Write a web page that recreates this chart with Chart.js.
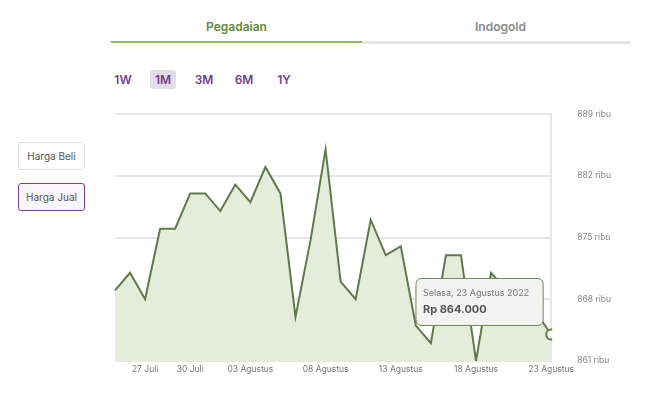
<!DOCTYPE html>
<html>
<head>
<meta charset="utf-8">
<script src="https://cdn.jsdelivr.net/npm/chart.js@4.4.0/dist/chart.umd.min.js"></script>
<style>
  body { margin: 0; width: 648px; height: 397px; background: #fff; font-family: Inter, "Open Sans", sans-serif; position: relative; overflow: hidden; }
  .tab { position: absolute; top: 19px; font-size: 12px; font-weight: 600; text-align: center; }
  .tab.on { left: 111px; width: 251px; color: #5f8a3c; }
  .tab.off { left: 370px; width: 261px; color: #8a8a8a; }
  .line-on { position: absolute; left: 111px; top: 41px; width: 251px; height: 2px; background: #8bbb6a; }
  .line-off { position: absolute; left: 362px; top: 41px; width: 269px; height: 3px; background: #e6e6e6; }
  .period { position: absolute; top: 70px; height: 19px; line-height: 19px; font-size: 12px; font-weight: 600; color: #74408c; text-align: center; width: 26px; border-radius: 3px; }
  .period.sel { background: #e1dcea; }
  .side { position: absolute; left: 18px; width: 65px; height: 26px; line-height: 26px; font-size: 10px; color: #555; text-align: center; border-radius: 3px; }
  .side.beli { top: 142px; border: 1px solid #dedede; }
  .side.jual { top: 183px; border: 1px solid #7b3fa0; background: #f8f6fa; }
  #wrap { position: absolute; left: 100px; top: 83px; width: 548px; height: 309px; }
</style>
</head>
<body>
<div class="tab on">Pegadaian</div>
<div class="tab off">Indogold</div>
<div class="line-on"></div>
<div class="line-off"></div>
<div class="period" style="left:110px">1W</div>
<div class="period sel" style="left:150px">1M</div>
<div class="period" style="left:191px">3M</div>
<div class="period" style="left:231px">6M</div>
<div class="period" style="left:271px">1Y</div>
<div class="side beli">Harga Beli</div>
<div class="side jual">Harga Jual</div>
<div id="wrap"><canvas id="chart"></canvas></div>
<script>
// harga jual per hari (ribu rupiah)
const dates = [
  '25 Juli', '26 Juli', '27 Juli', '28 Juli', '29 Juli', '30 Juli', '31 Juli',
  '01 Agustus', '02 Agustus', '03 Agustus', '04 Agustus', '05 Agustus', '06 Agustus', '07 Agustus',
  '08 Agustus', '09 Agustus', '10 Agustus', '11 Agustus', '12 Agustus', '13 Agustus', '14 Agustus',
  '15 Agustus', '16 Agustus', '17 Agustus', '18 Agustus', '19 Agustus', '20 Agustus', '21 Agustus',
  '22 Agustus', '23 Agustus'
];
const prices = [
  869, 871, 868, 876, 876, 880, 880, 878, 881, 879,
  883, 880, 866, 874.7, 885, 870, 868, 877, 873, 874,
  865, 863, 873, 873, 861, 871, 869, 867, 866.5, 864
];
const shownTicks = ['27 Juli', '30 Juli', '03 Agustus', '08 Agustus', '13 Agustus', '18 Agustus', '23 Agustus'];
const yTicks = [861, 868, 875, 882, 889];
const activeIndex = 29;
const activeTitle = 'Selasa, 23 Agustus 2022';

Chart.Tooltip.positioners.corner = function (items) {
  if (!items.length) return false;
  const el = items[0].element;
  return { x: el.x - 14, y: el.y - 9 };
};

const ctx = document.getElementById('chart');
const myChart = new Chart(ctx, {
  type: 'line',
  data: {
    labels: dates,
    datasets: [{
      data: prices,
      borderColor: '#5f7a48',
      backgroundColor: '#e4ecdc',
      borderWidth: 2,
      fill: 'start',
      tension: 0,
      pointRadius: 0,
      pointHoverRadius: 5,
      pointHoverBorderWidth: 2,
      pointHoverBackgroundColor: '#fff',
      pointHoverBorderColor: '#5f7a48'
    }]
  },
  options: {
    responsive: true,
    maintainAspectRatio: false,
    animation: false,
    layout: { padding: { left: 15, top: 8, right: 11, bottom: 0 } },
    events: [],
    plugins: {
      legend: { display: false },
      tooltip: {
        position: 'corner',
        xAlign: 'right',
        yAlign: 'bottom',
        caretSize: 0,
        caretPadding: 0,
        cornerRadius: 6,
        backgroundColor: '#f3f3f3',
        borderColor: '#6e8a56',
        borderWidth: 1,
        padding: { left: 7, right: 14, top: 9, bottom: 9 },
        displayColors: false,
        titleColor: '#777',
        titleFont: { family: 'Inter', size: 9, weight: 'normal' },
        titleMarginBottom: 5,
        bodyColor: '#555',
        bodyFont: { family: 'Inter', size: 11, weight: 'bold' },
        callbacks: {
          title: () => activeTitle,
          label: (c) => 'Rp ' + (c.raw * 1000).toLocaleString('id-ID')
        }
      }
    },
    scales: {
      x: {
        grid: { display: false, drawTicks: false },
        border: { display: false },
        ticks: {
          autoSkip: false,
          maxRotation: 0,
          padding: 3,
          color: '#777',
          font: { family: 'Inter', size: 8.5 },
          callback: function (v) {
            const l = this.getLabelForValue(v);
            return shownTicks.includes(l) ? l : '';
          }
        }
      },
      y: {
        position: 'right',
        min: 861,
        max: 889,
        afterBuildTicks: (axis) => { axis.ticks = yTicks.map(v => ({ value: v })); },
        grid: { color: '#e6e6e6', lineWidth: 2, drawTicks: false },
        border: { display: true, color: '#e6e6e6', width: 2 },
        ticks: {
          padding: 26,
          color: '#888',
          font: { family: 'Inter', size: 8.5 },
          callback: (v) => v + ' ribu'
        }
      }
    }
  }
});

const pt = myChart.getDatasetMeta(0).data[activeIndex];
myChart.setActiveElements([{ datasetIndex: 0, index: activeIndex }]);
myChart.tooltip.setActiveElements([{ datasetIndex: 0, index: activeIndex }], { x: pt.x, y: pt.y });
myChart.update();
</script>
</body>
</html>
